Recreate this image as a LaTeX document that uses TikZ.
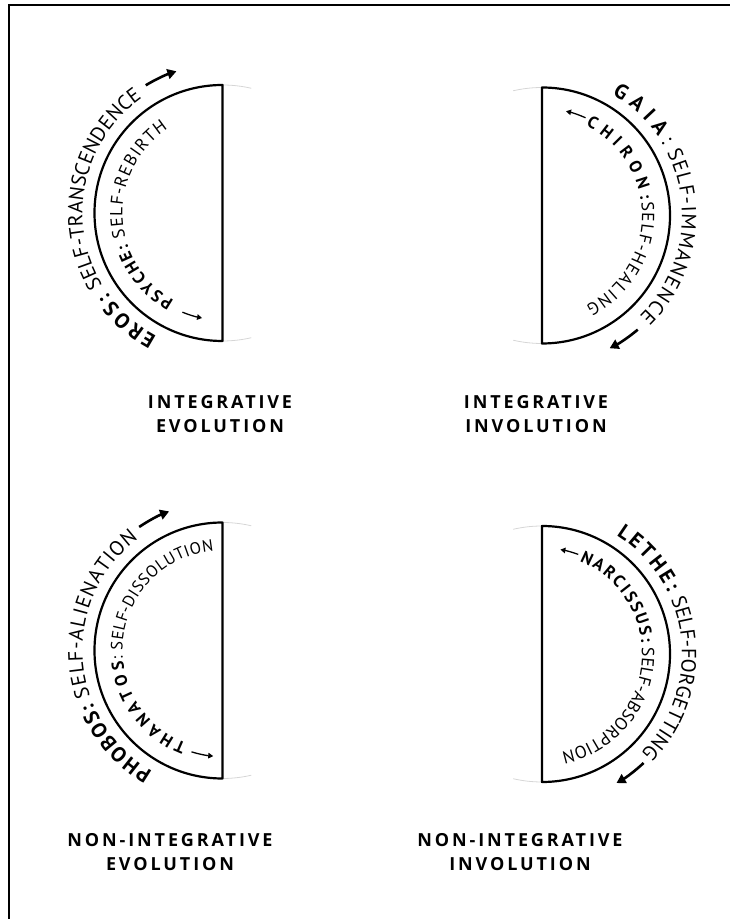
\documentclass[tikz,border=0pt]{standalone}
\usepackage{fontspec}
\setmainfont{PT Sans}
\newfontfamily\lblfont[LetterSpace=16]{Open Sans}
\usetikzlibrary{decorations.text,arrows.meta,calc}
\newcommand\ob{\fontsize{21}{21}\selectfont\bfseries}
\newcommand\om{\fontsize{20.5}{20}\selectfont\mdseries}
\newcommand\ib{\fontsize{17}{17}\selectfont\bfseries}
\newcommand\im{\fontsize{17.5}{17.5}\selectfont\mdseries}
\newcommand\imsmall{\fontsize{16.5}{16.5}\selectfont\mdseries}
\tikzset{
  shapeline/.style={line width=2.2pt, line join=round},
  ghost/.style={draw=black!16, line width=0.8pt},
  bigarrow/.style={line width=2.6pt, -{Triangle[length=9pt,width=10pt]}},
  smallarrow/.style={line width=1.3pt, -{Triangle[length=5pt,width=5.5pt]}},
  lbl/.style={font=\lblfont\bfseries\fontsize{18}{23.5}\selectfont, align=center, inner sep=0pt},
  border/.style={line width=2pt},
  arctext/.style={decorate, decoration={text along path, text align={fit to path}, text={#1}}},
}
% \arcT{centre}{radius}{start}{end}{text}
\newcommand\arcT[5]{\path[arctext={#5}] ($(#1)+(#3:#2pt)$) arc[start angle=#3,end angle=#4,radius=#2pt];}
\begin{document}
\begin{tikzpicture}[x=1pt,y=1pt]
\useasboundingbox (0,0) rectangle (730,919);
\draw[border] (9,-2) -- (9,914) -- (732,914);

\coordinate (tl) at (222.5,706);
\coordinate (tr) at (542,703.5);
\coordinate (bl) at (222.5,268.5);
\coordinate (br) at (542,265);

% ---------- shapes
\foreach \c in {tl,bl}{
  \draw[ghost] ($(\c)+(90:128pt)$) arc[start angle=90,end angle=77,radius=128pt];
  \draw[ghost] ($(\c)+(270:128pt)$) arc[start angle=270,end angle=283,radius=128pt];
  \draw[shapeline] ($(\c)+(90:128pt)$) arc[start angle=90,end angle=270,radius=128pt] -- cycle;
}
\foreach \c in {tr,br}{
  \draw[ghost] ($(\c)+(90:128pt)$) arc[start angle=90,end angle=103,radius=128pt];
  \draw[ghost] ($(\c)+(270:128pt)$) arc[start angle=270,end angle=257,radius=128pt];
  \draw[shapeline] ($(\c)+(90:128pt)$) arc[start angle=90,end angle=-90,radius=128pt] -- cycle;
}

% ---------- top left
\arcT{tl}{140}{242}{215}{|\ob|EROS:}
\arcT{tl}{140}{211}{125}{|\om|SELF-TRANSCENDENCE}
\draw[bigarrow] ($(tl)+(121:149pt)$) arc[start angle=121,end angle=108,radius=149pt];
\arcT{tl}{100}{241}{198}{|\ib|PSYCHE:}
\arcT{tl}{100}{194}{123}{|\im|SELF-REBIRTH}
\draw[smallarrow] ($(tl)+(248:107pt)$) arc[start angle=248,end angle=259,radius=107pt];

% ---------- top right
\arcT{tr}{140}{60}{34}{|\ob|GAIA}
\arcT{tr}{140}{32}{-46}{|\om|: SELF-IMMANENCE}
\draw[bigarrow] ($(tr)+(-50:149pt)$) arc[start angle=-50,end angle=-63,radius=149pt];
\arcT{tr}{100}{64}{9}{|\ib|CHIRON:}
\arcT{tr}{100}{7.5}{-64}{|\im|SELF-HEALING}
\draw[smallarrow] ($(tr)+(66:107pt)$) arc[start angle=66,end angle=77,radius=107pt];

% ---------- bottom left
\arcT{bl}{140}{240}{202}{|\ob|PHOBOS:}
\arcT{bl}{140}{199}{127}{|\om|SELF-ALIENATION}
\draw[bigarrow] ($(bl)+(124:149pt)$) arc[start angle=124,end angle=111,radius=149pt];
\arcT{bl}{100}{249}{186}{|\ib|THANATOS}
\arcT{bl}{100}{185}{95}{|\imsmall|: SELF-DISSOLUTION}
\draw[smallarrow] ($(bl)+(253:106pt)$) arc[start angle=253,end angle=265,radius=106pt];

% ---------- bottom right
\arcT{br}{140}{58}{26}{|\ob|LETHE:}
\arcT{br}{140}{23}{-43}{|\om|SELF-FORGETTING}
\draw[bigarrow] ($(br)+(-47:149pt)$) arc[start angle=-47,end angle=-60,radius=149pt];
\arcT{br}{100}{68}{6}{|\ib|NARCISSUS:}
\arcT{br}{100}{3.5}{-78}{|\im|SELF-ABSORPTION}
\draw[smallarrow] ($(br)+(70:106pt)$) arc[start angle=70,end angle=80,radius=106pt];

% ---------- labels
\node[lbl] (lab1) at (220,505) {INTEGRATIVE\\EVOLUTION};
\node[lbl] (lab2) at (536,505) {INTEGRATIVE\\INVOLUTION};
\node[lbl] (lab3) at (170,67) {NON-INTEGRATIVE\\EVOLUTION};
\node[lbl] (lab4) at (520,67) {NON-INTEGRATIVE\\INVOLUTION};
\end{tikzpicture}
\end{document}
